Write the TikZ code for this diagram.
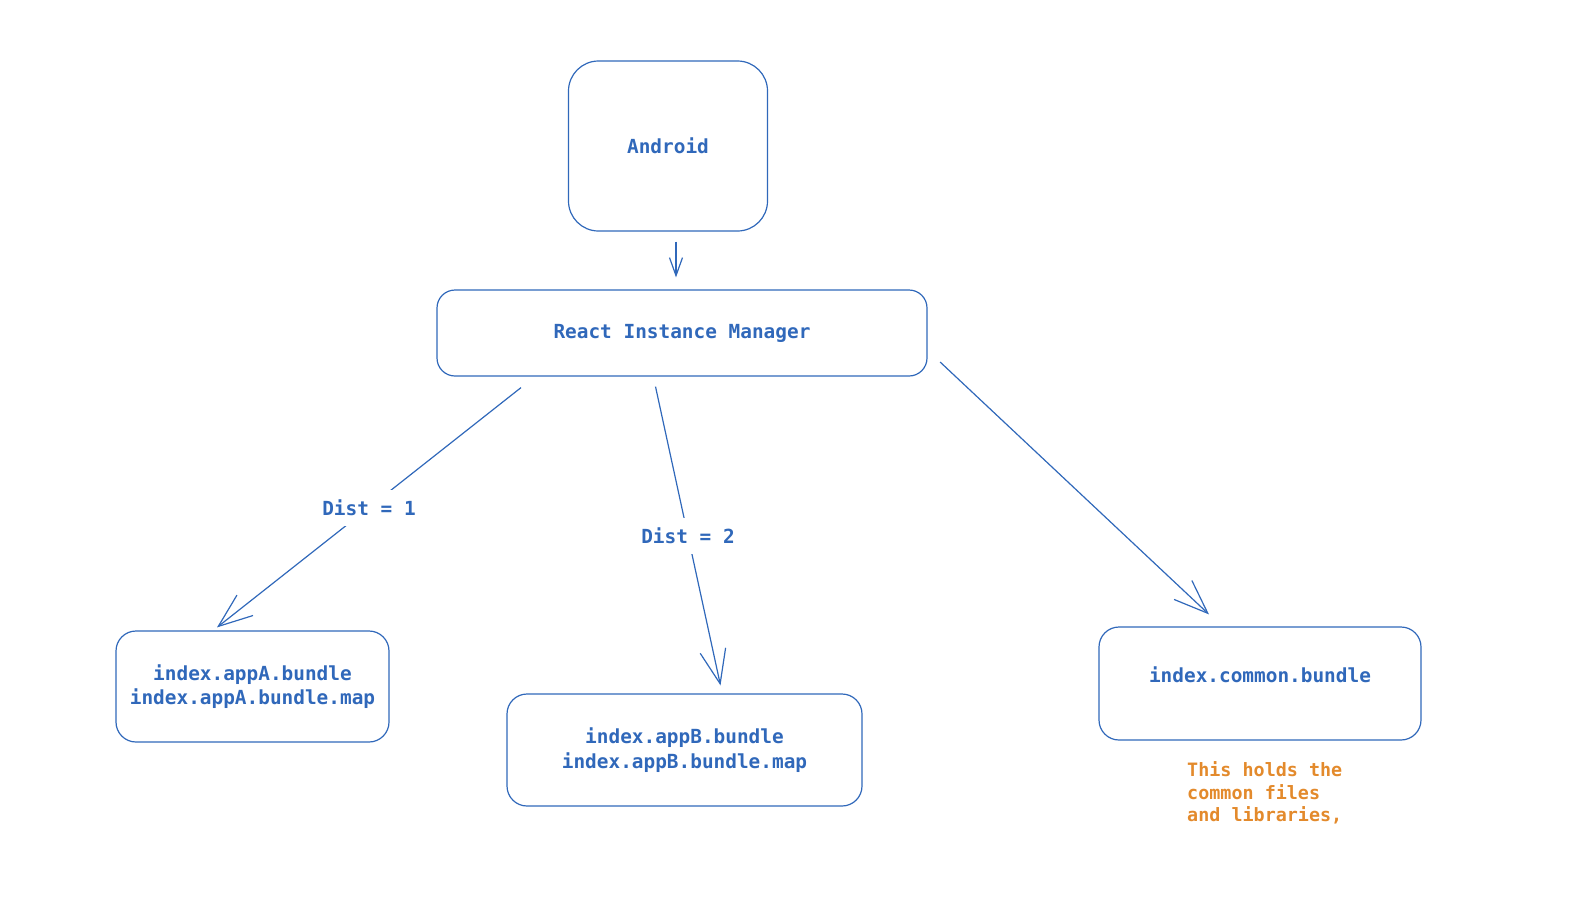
\documentclass[tikz,border=0pt]{standalone}
\usepackage{fontspec}
\setmonofont{DejaVu Sans Mono}
\usetikzlibrary{arrows.meta}
\definecolor{bundleblue}{HTML}{3068BA}
\definecolor{noteorange}{HTML}{E38A2C}

\begin{document}
\begin{tikzpicture}[x=1pt,y=-1pt,
  box/.style={draw=bundleblue,line width=1.2pt,rounded corners=20pt,text=bundleblue,
    font=\fontsize{19.4}{24.4}\selectfont\ttfamily\bfseries,align=center,inner sep=0pt},
  link/.style={draw=bundleblue,line width=1.2pt,-{Straight Barb[length=34pt,width=26pt]}},
  distlabel/.style={fill=white,text=bundleblue,font=\fontsize{19.4}{24.4}\selectfont\ttfamily\bfseries,
    minimum height=36pt,inner sep=2pt}]
\useasboundingbox (0,0) rectangle (1596,922);
\node [box,minimum width=199pt,minimum height=170pt,rounded corners=30pt] (android) at (668,146) {Android};
\node [box,minimum width=490pt,minimum height=86pt,rounded corners=18pt] (rim) at (682,333) {React Instance Manager};
\node [box,minimum width=273pt,minimum height=111pt] (appA) at (252.5,686.5) {index.appA.bundle\\index.appA.bundle.map};
\node [box,minimum width=355pt,minimum height=112pt] (appB) at (684.5,750) {index.appB.bundle\\index.appB.bundle.map};
\node [box,minimum width=322pt,minimum height=113pt] (common) at (1260,683.5) {\raisebox{17pt}{index.common.bundle}};
\node [text=noteorange,font=\fontsize{18.4}{22.4}\selectfont\ttfamily\bfseries,align=left,anchor=west,inner sep=0pt]
  (note) at (1187,793) {This holds the\\common files\\and libraries,};

% connectors
\draw [link,-{Straight Barb[length=18pt,width=13pt]}] ([shift={(8,10)}]android.south) -- ([shift={(-6,-12)}]rim.north);
\draw [link] ([shift={(-161,11)}]rim.south) -- node [distlabel] (distA) {Dist = 1} ([shift={(-35.5,-3)}]appA.north);
\draw [link] ([shift={(-26.5,10)}]rim.south) -- node [distlabel] (distB) {Dist = 2} ([shift={(36,-8)}]appB.north);
\draw [link] ([shift={(12.5,29)}]rim.east) -- ([shift={(-51,-12)}]common.north);
\end{tikzpicture}
\end{document}
